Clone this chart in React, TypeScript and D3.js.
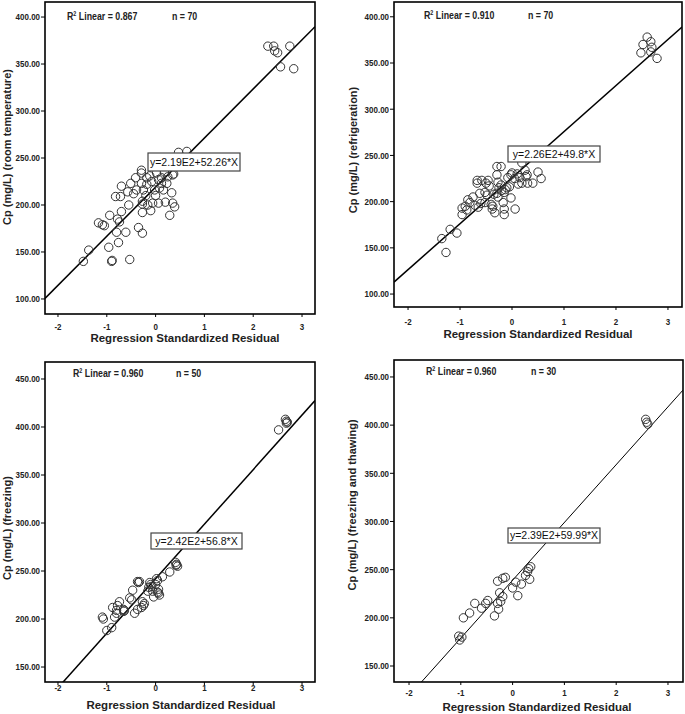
import React from 'react';
import * as d3 from 'd3';

// ---------- DATA ----------
const p1X = [2.30, 2.42, 2.44, 2.50, 2.75, 2.56, 2.83,
  0.47, 0.64, -0.29, 0.02, 0.35, 0.18, -0.12, 0.12,
  -0.70, -0.41, -0.29, -0.18, -0.29, -0.08, 0.06, 0.12, 0.23, 0.37,
  -0.57, -0.45, -0.82, -0.72, -0.94, -0.70, -0.78, -0.74, -0.80, -1.17, -1.09, -1.05, -1.37, -1.48, -0.96, -0.76, -0.61, -0.90, -0.89, -0.53,
  -0.55, -0.27, -0.27, -0.16, -0.06, -0.27, -0.35, -0.27, -0.10, 0.06, 0.20, 0.33, 0.35, 0.39, 0.29, 0.08, -0.20, 0.0, 0.16, -0.39, -0.25,
  -0.51, -0.18, 0.25, -0.02];
const p1Y = [369, 369, 364, 362, 369, 347, 345,
  256, 257, 237, 234, 232, 235, 231, 229,
  220, 229, 223, 222, 234, 225, 227, 223, 223, 233,
  214, 212, 209, 209, 189, 193, 185, 182, 171, 181, 179, 178, 152, 140, 155, 160, 171, 140, 141, 142,
  200, 204, 201, 200, 202, 192, 176, 170, 194, 202, 203, 213, 202, 198, 189, 218, 210, 210, 216, 216, 216,
  223, 229, 230, 216];

const p2X = [2.48, 2.52, 2.60, 2.67, 2.69, 2.67, 2.79,
  -0.29, -0.21, 0.19, 0.50, -0.02, 0.25,
  -0.67, -0.58, -0.67, -0.46, -0.44, -0.48, -0.29, -0.27, -0.21, -0.25, -0.13, -0.10, -0.08, 0.0, 0.12, 0.15, 0.27, 0.29, 0.40, 0.56, 0.19,
  -0.02, -0.17, -0.15, -0.15, 0.06, -0.37, -0.38, -0.33, -0.52, -0.75, -0.85, -0.81, -0.65, -0.71, -0.96, -0.96, -0.87, -1.19, -1.35, -1.06, -1.27, -0.29, -0.27, -0.62, -0.52,
  -0.50, -0.20, -0.15, -0.35, 0.05, 0.10, -0.40, -0.60, -0.90, 0.30, -0.05];
const p2Y = [361, 370, 378, 373, 367, 362, 355,
  238, 238, 242, 232, 229, 234,
  223, 223, 220, 223, 217, 207, 229, 221, 218, 215, 213, 215, 226, 231, 219, 226, 227, 229, 220, 225, 220,
  204, 199, 192, 186, 192, 195, 192, 188, 199, 205, 202, 199, 194, 196, 193, 186, 191, 170, 160, 166, 145, 209, 205, 209, 210,
  220, 212, 210, 208, 225, 230, 197, 198, 195, 220, 216];

const p3X = [2.52, 2.66, 2.68, 2.68, 2.70,
  0.41, 0.43, 0.45, 0.29, 0.14, 0.02, 0.04, -0.37, -0.33, -0.35, -0.47, -0.12, -0.08, -0.14, 0.06, 0.04, 0.06, -0.06, -0.16, -0.04,
  -0.53, -0.49, -0.74, -0.27, -0.23, -0.29, -0.37, -0.43, -0.66, -0.64, -0.88, -0.80, -0.84, -1.09, -1.07, -1.0, -0.90, -0.78, -0.80,
  0.0, -0.10, 0.08, -0.65, -0.25, 0.42];
const p3Y = [397, 408, 406, 404, 405,
  259, 257, 255, 249, 244, 242, 240, 239, 239, 238, 230, 238, 234, 233, 231, 228, 227, 229, 229, 223,
  222, 220, 218, 218, 216, 212, 210, 206, 210, 209, 212, 209, 202, 202, 200, 188, 191, 214, 206,
  236, 236, 225, 208, 214, 256];

const p4X = [2.57, 2.59, 2.61,
  0.35, 0.29, 0.33, 0.25, 0.31, -0.14, -0.19, -0.29, 0.0, 0.06, 0.17, 0.10, -0.25, -0.19, -0.23, -0.29, -0.27, -0.35, -0.48, -0.52, -0.60, -0.73, -0.83, -0.95, -1.04, -0.98, -1.02];
const p4Y = [406, 403, 401,
  253, 248, 240, 244, 251, 242, 241, 238, 231, 237, 235, 223, 226, 222, 217, 215, 209, 202, 218, 215, 210, 215, 205, 200, 181, 180, 177];

const fitIntercepts = [219, 226, 242, 239];
const fitSlopes = [52.26, 49.8, 56.8, 59.99];
const r2Labels = ['0.867', '0.910', '0.960', '0.960'];
const nLabels = ['70', '70', '50', '30'];
const eqLabels = ['y=2.19E2+52.26*X', 'y=2.26E2+49.8*X', 'y=2.42E2+56.8*X', 'y=2.39E2+59.99*X'];
const yTitles = ['Cp (mg/L) (room temperature)', 'Cp (mg/L) (refrigeration)', 'Cp (mg/L) (freezing)', 'Cp (mg/L) (freezing and thawing)'];
const xTitle = 'Regression Standardized Residual';
const xTickValues = [-2, -1, 0, 1, 2, 3];
const yTicksTop = [100, 150, 200, 250, 300, 350, 400];
const yTicksBottom = [150, 200, 250, 300, 350, 400, 450];

const seriesX = [p1X, p2X, p3X, p4X];
const seriesY = [p1Y, p2Y, p3Y, p4Y];

// ---------- LAYOUT ----------
const layouts = [
  { left: 45, top: 2, right: 315, bottom: 314, xDom: [-2.266, 3.266], yDom: [84, 416], yTicks: yTicksTop,
    tickLabelY: 327, titleY: 338, titleX: 185, yTitleX: 7, yTitleY: 147, r2x: 67, ry: 20, nx: 172,
    box: [148, 153, 240, 171], lw: 1.5 },
  { left: 394, top: 2, right: 682, bottom: 307, xDom: [-2.27, 3.27], yDom: [86, 416], yTicks: yTicksTop,
    tickLabelY: 322, titleY: 334, titleX: 538, yTitleX: 353, yTitleY: 150, r2x: 424, ry: 19, nx: 528,
    box: [508, 146, 600, 162], lw: 1.5 },
  { left: 45, top: 362, right: 315, bottom: 682, xDom: [-2.266, 3.266], yDom: [134.4, 467.7], yTicks: yTicksBottom,
    tickLabelY: 688, titleY: 705, titleX: 181, yTitleX: 7, yTitleY: 528, r2x: 73, ry: 377, nx: 176,
    box: [151, 533, 242, 549], lw: 1.5 },
  { left: 394, top: 360, right: 683, bottom: 682, xDom: [-2.29, 3.29], yDom: [133.4, 467.6], yTicks: yTicksBottom,
    tickLabelY: 693, titleY: 707, titleX: 537, yTitleX: 352, yTitleY: 505, r2x: 426, ry: 375, nx: 531,
    box: [508, 528, 600, 543], lw: 1 },
];

const mainFont = "'Liberation Sans', Arial, sans-serif";
const fmt = d3.format('.2f');
const NARROW = 0.84;

function NText({ x, y, anchor, size, children }: { x: number; y: number; anchor?: string; size: number; children: React.ReactNode }) {
  return (
    <text transform={`translate(${x},${y}) scale(${NARROW},1)`} textAnchor={anchor || 'start'} fontFamily={mainFont}
      fontWeight="bold" fontSize={size} fill="#222">
      {children}
    </text>
  );
}

function Panel({ i }: { i: number }) {
  const L = layouts[i];
  const x = d3.scaleLinear().domain(L.xDom).range([L.left, L.right]);
  const y = d3.scaleLinear().domain(L.yDom).range([L.bottom, L.top]);
  const xs = seriesX[i];
  const ys = seriesY[i];
  const a = fitIntercepts[i];
  const b = fitSlopes[i];
  const lineGen = d3.line<number>().x((d) => x(d)).y((d) => y(a + b * d));
  const clipId = `clip${i}`;
  const [bx0, by0, bx1, by1] = L.box;
  return (
    <g>
      <defs>
        <clipPath id={clipId}>
          <rect x={L.left} y={L.top} width={L.right - L.left} height={L.bottom - L.top} />
        </clipPath>
      </defs>
      <g clipPath={`url(#${clipId})`}>
        <path d={lineGen(L.xDom) || ''} stroke="#000" strokeWidth={L.lw} fill="none" />
        {xs.map((v, k) => (
          <circle key={k} cx={x(v)} cy={y(ys[k])} r={4.2} fill="none" stroke="#333" strokeWidth={1} />
        ))}
      </g>
      <rect x={L.left} y={L.top} width={L.right - L.left} height={L.bottom - L.top} fill="none" stroke="#000" strokeWidth={1.6} />
      {L.yTicks.map((t) => (
        <g key={t}>
          <line x1={L.left - 4} x2={L.left} y1={y(t)} y2={y(t)} stroke="#000" strokeWidth={1} />
          <NText x={L.left - 5} y={y(t) + 3.3} anchor="end" size={9.5}>{fmt(t)}</NText>
        </g>
      ))}
      {xTickValues.map((t) => (
        <g key={t}>
          <line x1={x(t)} x2={x(t)} y1={L.bottom} y2={L.bottom + 3} stroke="#000" strokeWidth={1} />
          <NText x={x(t)} y={L.tickLabelY + 3.3} anchor="middle" size={9.5}>{t}</NText>
        </g>
      ))}
      <text x={L.titleX} y={L.titleY} dy="0.35em" textAnchor="middle" fontFamily={mainFont} fontWeight="bold" fontSize={11.5} fill="#222">
        {xTitle}
      </text>
      <text transform={`translate(${L.yTitleX},${L.yTitleY}) rotate(-90)`} dy="0.35em" textAnchor="middle" fontFamily={mainFont} fontWeight="bold" fontSize={11} fill="#222">
        {yTitles[i]}
      </text>
      <NText x={L.r2x} y={L.ry} size={10.5}>
        R<tspan dy={-4} fontSize={6.5}>2</tspan><tspan dy={4}> Linear = {r2Labels[i]}</tspan>
      </NText>
      <NText x={L.nx} y={L.ry} size={10.5}>n = {nLabels[i]}</NText>
      <rect x={bx0} y={by0} width={bx1 - bx0} height={by1 - by0} fill="#fff" stroke="#444" strokeWidth={1.2} />
      <text x={(bx0 + bx1) / 2} y={(by0 + by1) / 2} dy="0.36em" textAnchor="middle" fontFamily={mainFont} fontSize={10.5} fill="#111">
        {eqLabels[i]}
      </text>
    </g>
  );
}

export default function App() {
  return (
    <div style={{ position: 'absolute', left: 0, top: 0 }}>
      <svg width={685} height={714} style={{ display: 'block', background: '#fff' }}>
        <rect x={0} y={0} width={685} height={714} fill="#fff" />
        {[0, 1, 2, 3].map((i) => (
          <Panel key={i} i={i} />
        ))}
      </svg>
    </div>
  );
}
